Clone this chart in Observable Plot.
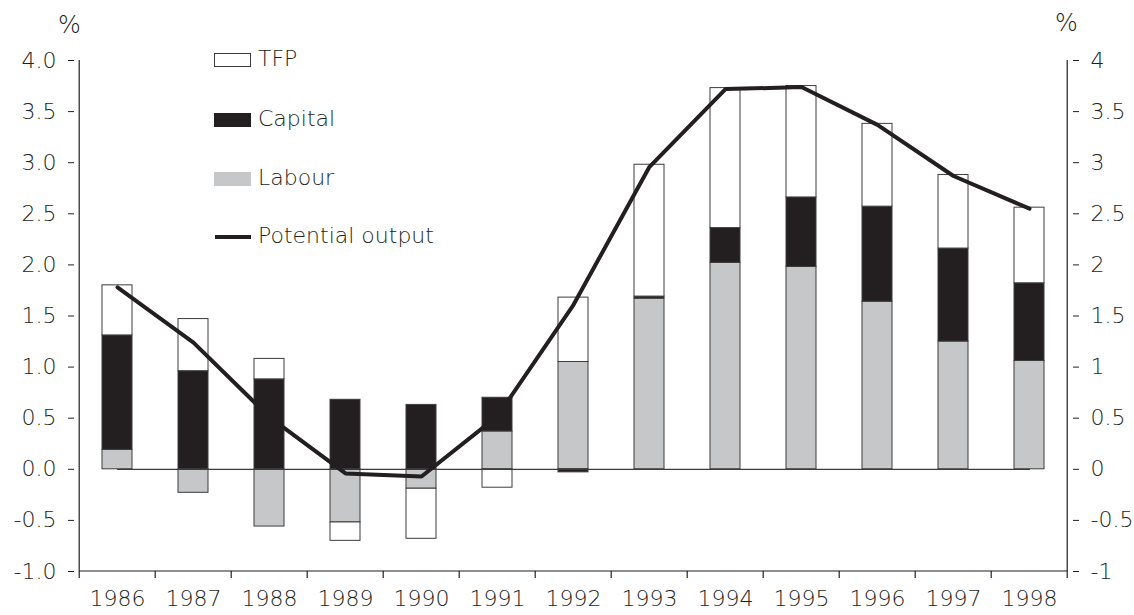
<!DOCTYPE html>
<html>
<head>
<meta charset="utf-8">
<script src="https://cdn.jsdelivr.net/npm/d3@7"></script>
<script src="https://cdn.jsdelivr.net/npm/@observablehq/plot@0.6"></script>
<style>
  html, body { margin: 0; padding: 0; background: #fff; }
  #wrap { position: relative; width: 1134px; height: 615px; font-family: "DejaVu Sans", sans-serif; font-weight: 200; color: #231f20; }
  #wrap svg { position: absolute; left: 0; top: 0; }
  .lbl { position: absolute; font-size: 22px; line-height: 22px; white-space: nowrap; }
  .sw { position: absolute; box-sizing: border-box; }
</style>
</head>
<body>
<div id="wrap"></div>
<script>
const years = ["1986","1987","1988","1989","1990","1991","1992","1993","1994","1995","1996","1997","1998"];
const labour  = [0.19, -0.23, -0.56, -0.52, -0.19, 0.37, 1.05, 1.67, 2.02, 1.98, 1.64, 1.25, 1.06];
const capital = [1.12, 0.96, 0.88, 0.68, 0.63, 0.33, -0.03, 0.02, 0.34, 0.68, 0.93, 0.91, 0.76];
const tfp     = [0.49, 0.51, 0.20, -0.18, -0.49, -0.18, 0.63, 1.29, 1.37, 1.09, 0.81, 0.72, 0.74];
const potential = [1.78, 1.24, 0.51, -0.04, -0.07, 0.52, 1.61, 2.96, 3.72, 3.74, 3.37, 2.87, 2.55];
const yTicks = [-1, -0.5, 0, 0.5, 1, 1.5, 2, 2.5, 3, 3.5, 4];
const seriesNames = ["Labour", "Capital", "TFP"];
const seriesColors = ["#c6c7c9", "#231f20", "#ffffff"];

const rows = [];
[labour, capital, tfp].forEach((arr, s) => {
  arr.forEach((v, i) => rows.push({year: years[i], series: seriesNames[s], value: v}));
});

const padIn = 0.6, padOut = 0.3;
const FONT = "'DejaVu Sans', sans-serif";

// axis lines + category boundary ticks, computed from Plot's scales
function frameAxes(index, scales, values, dims) {
  const g = d3.create("svg:g").attr("stroke", "#231f20").attr("stroke-width", 1.2).attr("fill", "none");
  const x = scales.x, y = scales.y;
  const step = x(years[1]) - x(years[0]);
  const left = x(years[0]) - padOut * step;
  const right = x(years[years.length - 1]) + (1 - padOut) * step;
  const yb = y(-1), yt = y(4);
  g.append("line").attr("x1", left).attr("x2", right).attr("y1", yb).attr("y2", yb);
  g.append("line").attr("x1", left).attr("x2", left).attr("y1", yt).attr("y2", yb);
  g.append("line").attr("x1", right).attr("x2", right).attr("y1", yt).attr("y2", yb);
  years.forEach((yr) => {
    const bx = x(yr) - padOut * step;
    g.append("line").attr("x1", bx).attr("x2", bx).attr("y1", yb).attr("y2", yb + 7);
  });
  g.append("line").attr("x1", right).attr("x2", right).attr("y1", yb).attr("y2", yb + 7);
  return g.node();
}

const axisText = {fontSize: 22, fontFamily: FONT, fontWeight: 200};

const chart = Plot.plot({
  width: 1134,
  height: 615,
  marginLeft: 74,
  marginRight: 62,
  marginTop: 60,
  marginBottom: 44,
  style: {fontFamily: FONT, fontWeight: 200, fontSize: "22px", color: "#231f20", background: "transparent"},
  x: {type: "band", domain: years, paddingInner: padIn, paddingOuter: padOut, axis: null},
  y: {domain: [-1, 4], axis: null},
  color: {domain: seriesNames, range: seriesColors},
  marks: [
    Plot.barY(rows, Plot.stackY({x: "year", y: "value", fill: "series", stroke: "#3c3c3c", strokeWidth: 1, order: null})),
    Plot.line(years, {x: d => d, y: () => 0, stroke: "#3c3c3c", strokeWidth: 1.2}),
    Plot.line(years, {x: d => d, y: (d, i) => potential[i], stroke: "#231f20", strokeWidth: 4, strokeLinejoin: "miter"}),
    Plot.axisY(yTicks, {anchor: "left", tickFormat: d => d.toFixed(1), tickSize: 6, tickPadding: 12, stroke: "#231f20", label: null, ...axisText}),
    Plot.axisY(yTicks, {anchor: "right", tickFormat: d => String(d), tickSize: 6, tickPadding: 12, stroke: "#231f20", label: null, ...axisText}),
    Plot.axisX({anchor: "bottom", tickSize: 0, tickPadding: 19, label: null, ...axisText}),
    frameAxes
  ]
});

const wrap = document.getElementById("wrap");
wrap.appendChild(chart);

function addLabel(text, left, top, size) {
  const d = document.createElement("div");
  d.className = "lbl"; d.textContent = text;
  d.style.left = left + "px"; d.style.top = top + "px";
  if (size) { d.style.fontSize = size + "px"; d.style.lineHeight = size + "px"; }
  wrap.appendChild(d);
}
function addSwatch(left, top, w, h, bg, border) {
  const d = document.createElement("div");
  d.className = "sw";
  d.style.left = left + "px"; d.style.top = top + "px";
  d.style.width = w + "px"; d.style.height = h + "px";
  d.style.background = bg;
  if (border) d.style.border = border;
  wrap.appendChild(d);
}
addLabel("%", 58, 13, 24);
addLabel("%", 1055, 11, 24);

const legendItems = [
  {name: "TFP", kind: "box", bg: "#ffffff", border: "1px solid #3c3c3c", cy: 60},
  {name: "Capital", kind: "box", bg: "#231f20", border: null, cy: 120},
  {name: "Labour", kind: "box", bg: "#c6c7c9", border: null, cy: 179},
  {name: "Potential output", kind: "line", bg: "#231f20", border: null, cy: 237}
];
legendItems.forEach(it => {
  if (it.kind === "box") addSwatch(214, it.cy - 7, 37, 14, it.bg, it.border);
  else addSwatch(215, it.cy - 2, 36, 4, it.bg, null);
  addLabel(it.name, 258, it.cy - 12);
});
</script>
</body>
</html>
